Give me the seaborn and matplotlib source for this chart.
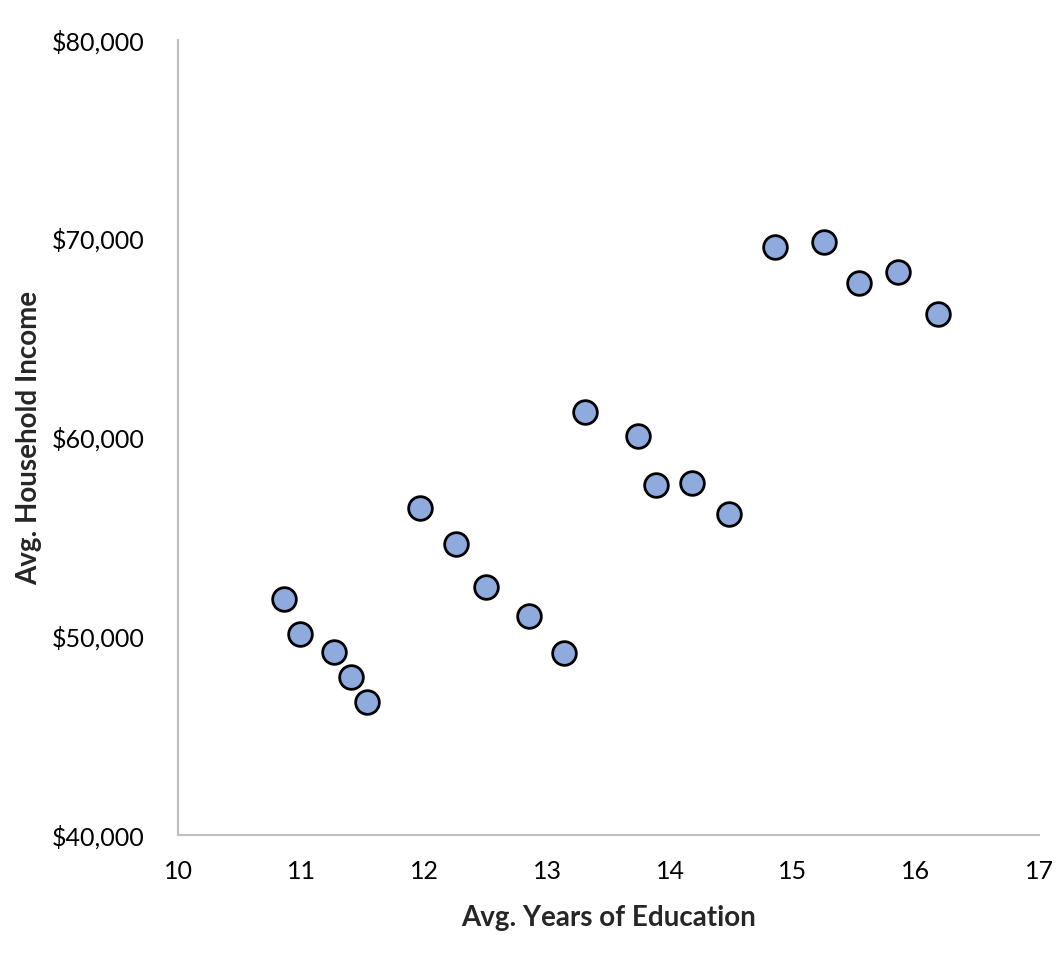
import matplotlib
matplotlib.use("Agg")
import matplotlib.pyplot as plt
import seaborn as sns
import pandas as pd
from matplotlib.ticker import FuncFormatter

years = [10.86, 10.99, 11.27, 11.41, 11.54, 11.97, 12.26, 12.50, 12.85, 13.14,
         13.31, 13.74, 13.89, 14.18, 14.48, 14.85, 15.25, 15.54, 15.85, 16.18]
income = [51870, 50110, 49210, 47950, 46690, 56450, 54640, 52480, 51020, 49160,
          61280, 60080, 57610, 57710, 56150, 69590, 69840, 67770, 68330, 66210]

df = pd.DataFrame({"Avg. Years of Education": years, "Avg. Household Income": income})

sns.set_style("white")
plt.rcParams['font.family'] = ['Lato', 'DejaVu Sans']

fig = plt.figure(figsize=(10.64, 9.58), dpi=100)
ax = fig.add_axes([178/1064, 1-835/958, (1039-178)/1064, (835-40)/958])

sns.scatterplot(data=df, x="Avg. Years of Education", y="Avg. Household Income", ax=ax,
                s=290, color="#8FAADC", edgecolor="black", linewidth=2.0, zorder=3, clip_on=False)

ax.set_xlim(10, 17)
ax.set_ylim(40000, 80000)
ax.set_xticks(range(10, 18))
ax.set_yticks([40000, 50000, 60000, 70000, 80000])
ax.yaxis.set_major_formatter(FuncFormatter(lambda v, p: f"${v:,.0f}"))
ax.tick_params(axis='both', length=0, labelsize=18)
ax.tick_params(axis='y', pad=24)
ax.tick_params(axis='x', pad=18)
for lab in ax.get_xticklabels() + ax.get_yticklabels():
    lab.set_color("black")

for s in ["top", "right"]:
    ax.spines[s].set_visible(False)
for s in ["left", "bottom"]:
    ax.spines[s].set_color("#BFBFBF")
    ax.spines[s].set_linewidth(1.5)

ax.set_xlabel("Avg. Years of Education", fontsize=20, fontweight="bold", labelpad=16)
ax.set_ylabel("Avg. Household Income", fontsize=20, fontweight="bold", labelpad=7)
ax.grid(False)

fig.savefig("out.png", dpi=100)
